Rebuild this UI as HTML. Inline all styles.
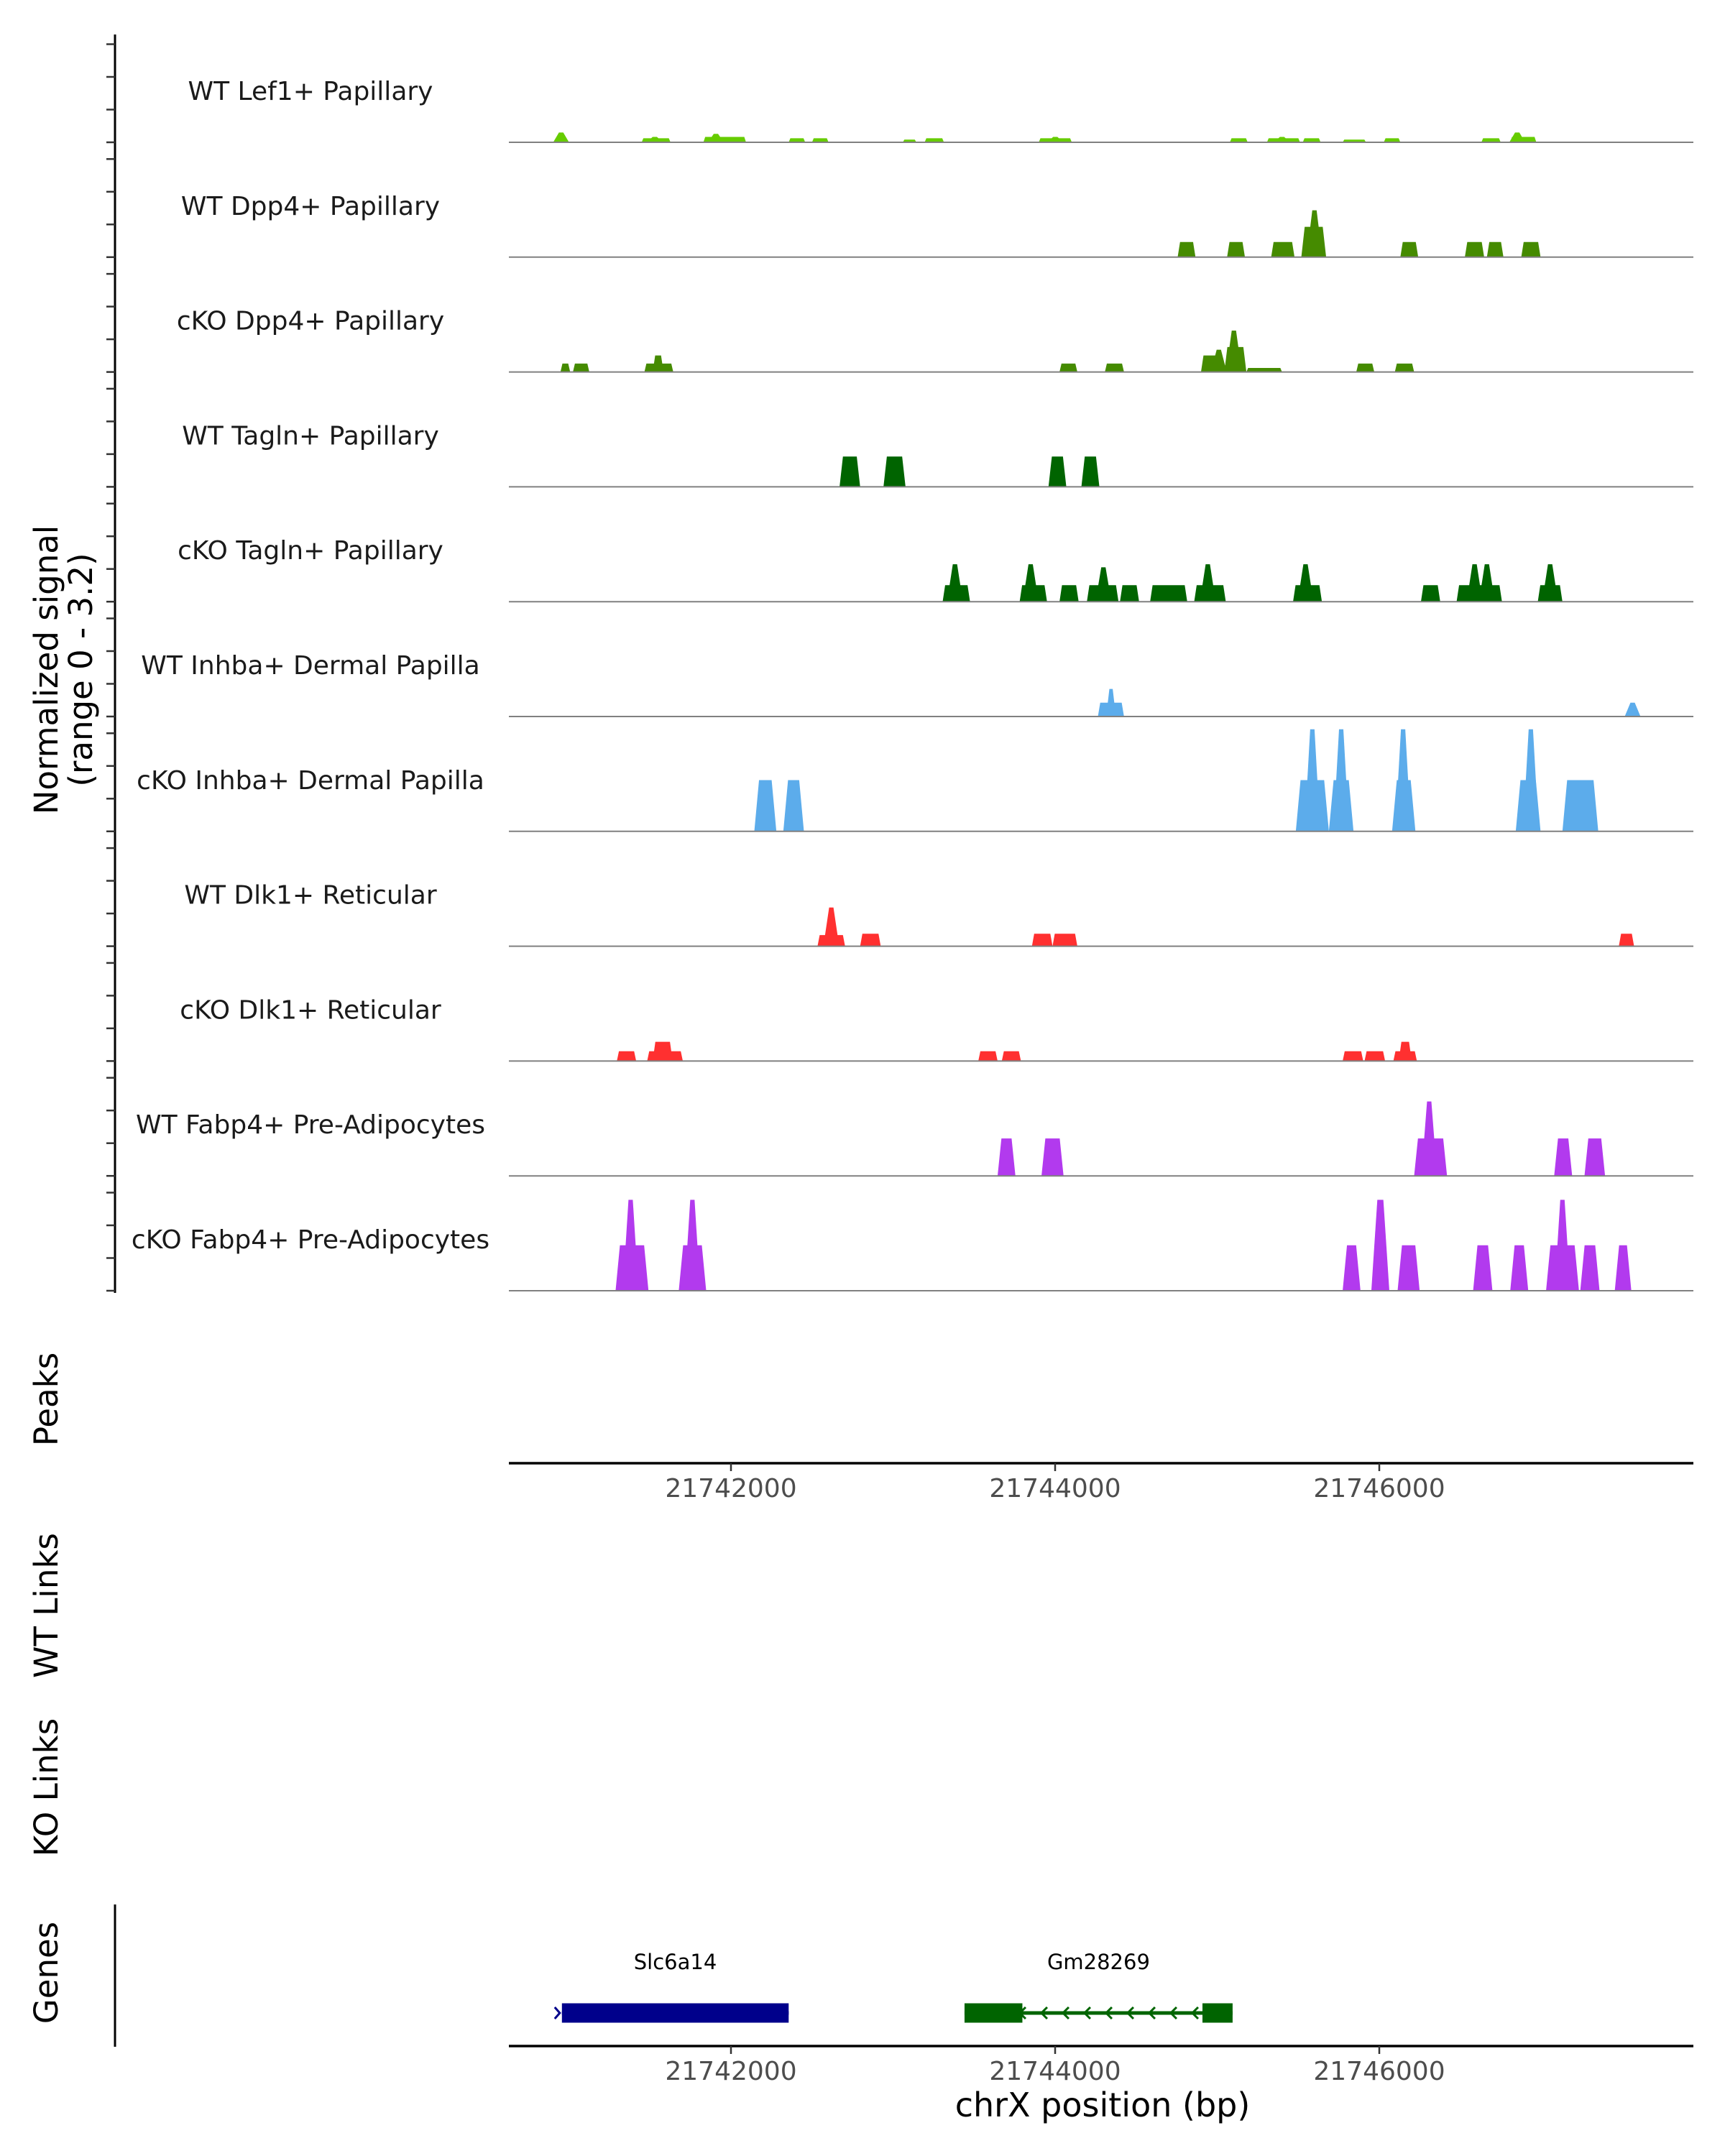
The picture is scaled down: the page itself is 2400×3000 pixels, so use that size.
<!DOCTYPE html>
<html><head><meta charset="utf-8"><style>
html,body{margin:0;padding:0;background:#fff;}
svg{display:block;font-family:"DejaVu Sans","Liberation Sans",sans-serif;}
</style></head><body>
<svg id="chart" width="2400" height="3000" viewBox="0 0 2400 3000" xmlns="http://www.w3.org/2000/svg">
<g id="axes"></g>
<g id="tracks"></g>
<g id="genes"></g>
</svg>
<script>
const trackNames = ["WT Lef1+ Papillary","WT Dpp4+ Papillary","cKO Dpp4+ Papillary","WT Tagln+ Papillary","cKO Tagln+ Papillary","WT Inhba+ Dermal Papilla","cKO Inhba+ Dermal Papilla","WT Dlk1+ Reticular","cKO Dlk1+ Reticular","WT Fabp4+ Pre-Adipocytes","cKO Fabp4+ Pre-Adipocytes"];
const trackColors = ["#66cc00","#458b00","#458b00","#006400","#006400","#5caceb","#5caceb","#ff3030","#ff3030","#b23aee","#b23aee"];
const xTicks = [21742000,21744000,21746000];
const xTickLabels = ["21742000","21744000","21746000"];
const yRangeMax = 3.2;

const peaksLef1WT = [[21740948,21740991,0.12],[21741449,21741627,0.12],[21741830,21742093,0.16],[21742356,21742458,0.12],[21742500,21742602,0.12],[21743060,21743144,0.08],[21743195,21743314,0.12],[21743899,21744103,0.12],[21745078,21745188,0.12],[21745307,21745511,0.12],[21745528,21745638,0.12],[21745774,21745918,0.08],[21746028,21746130,0.12],[21746630,21746749,0.12],[21746808,21746969,0.16]];
const spikesLef1WT = [[21740952,0.29],[21741530,0.16],[21741907,0.25],[21744001,0.16],[21745400,0.16],[21746851,0.29]];
const peaksDpp4WT = [[21744756,21744866,0.45],[21745061,21745171,0.45],[21745333,21745477,0.45],[21745519,21745672,0.9],[21746130,21746240,0.45],[21746528,21746647,0.45],[21746664,21746766,0.45],[21746876,21746995,0.45]];
const spikesDpp4WT = [[21745600,1.39]];
const peaksDpp4KO = [[21740948,21741008,0.25],[21741025,21741126,0.25],[21741466,21741644,0.25],[21741517,21741584,0.49],[21744027,21744137,0.25],[21744307,21744425,0.25],[21744900,21745027,0.49],[21745044,21745180,0.74],[21745180,21745400,0.12],[21745858,21745969,0.25],[21746096,21746215,0.25]];
const spikesDpp4KO = [[21745010,0.66],[21745103,1.23]];
const peaksTaglnWT = [[21742670,21742797,0.9],[21742941,21743077,0.9],[21743959,21744069,0.9],[21744162,21744273,0.9]];
const spikesTaglnWT = [];
const peaksTaglnKO = [[21743306,21743475,0.49],[21743781,21743950,0.49],[21744027,21744145,0.49],[21744196,21744391,0.49],[21744400,21744518,0.49],[21744586,21744815,0.49],[21744858,21745053,0.49],[21745468,21745646,0.49],[21746257,21746376,0.49],[21746477,21746757,0.49],[21746978,21747130,0.49]];
const spikesTaglnKO = [[21743382,1.11],[21743849,1.11],[21744298,1.02],[21744942,1.11],[21745545,1.11],[21746588,1.11],[21746664,1.11],[21747054,1.11]];
const peaksInhbaWT = [[21744264,21744425,0.41],[21744315,21744375,0.82]];
const spikesInhbaWT = [[21747563,0.41]];
const peaksInhbaKO = [[21742144,21742280,1.52],[21742323,21742450,1.52],[21745485,21745689,1.52],[21745689,21745841,1.52],[21746079,21746223,1.52],[21746842,21746995,1.52],[21747130,21747351,1.52]];
const spikesInhbaKO = [[21745587,3.03],[21745765,3.03],[21746147,3.03],[21746935,3.03]];
const peaksDlk1WT = [[21742534,21742704,0.33],[21742797,21742924,0.37],[21743857,21743984,0.37],[21743984,21744137,0.37],[21747478,21747572,0.37]];
const spikesDlk1WT = [[21742619,1.15]];
const peaksDlk1KO = [[21741296,21741415,0.29],[21741483,21741703,0.29],[21741517,21741640,0.57],[21743526,21743645,0.29],[21743671,21743789,0.29],[21745774,21745901,0.29],[21745909,21746036,0.29],[21746087,21746232,0.29],[21746120,21746200,0.57]];
const spikesDlk1KO = [];
const peaksFabp4WT = [[21743645,21743755,1.11],[21743916,21744052,1.11],[21746215,21746418,1.11],[21747079,21747190,1.11],[21747266,21747393,1.11]];
const spikesFabp4WT = [[21746308,2.21]];
const peaksFabp4KO = [[21741288,21741491,1.35],[21741678,21741847,1.35],[21745774,21745884,1.35],[21745951,21746062,2.7],[21746113,21746249,1.35],[21746579,21746698,1.35],[21746808,21746919,1.35],[21747029,21747232,1.35],[21747240,21747359,1.35],[21747453,21747555,1.35]];
const spikesFabp4KO = [[21741381,2.7],[21741762,2.7],[21747130,2.7]];

const trackPeaks = [peaksLef1WT,peaksDpp4WT,peaksDpp4KO,peaksTaglnWT,peaksTaglnKO,peaksInhbaWT,peaksInhbaKO,peaksDlk1WT,peaksDlk1KO,peaksFabp4WT,peaksFabp4KO];
const trackSpikes = [spikesLef1WT,spikesDpp4WT,spikesDpp4KO,spikesTaglnWT,spikesTaglnKO,spikesInhbaWT,spikesInhbaKO,spikesDlk1WT,spikesDlk1KO,spikesFabp4WT,spikesFabp4KO];

const geneNames = ["Slc6a14","Gm28269"];
const geneStarts = [21740957,21743441];
const geneEnds = [21742356,21745095];
const geneExons = [[[21740957,21742356]],[[21743441,21743798],[21744909,21745095]]];
const geneStrands = ["+","-"];
const geneColors = ["#00008b","#006400"];

const NS="http://www.w3.org/2000/svg";
const PX_L=708, PX_R=2356;
const xScale = bp => 1017 + (bp-21742000)*0.2255;
const firstBase=198, trackStep=159.8, trackH=150;
const yScale = (v, base) => base - v/yRangeMax*trackH;
function mk(tag, attrs, parent, text){const e=document.createElementNS(NS,tag);for(const k in attrs)e.setAttribute(k,attrs[k]);if(text!==undefined)e.textContent=text;parent.appendChild(e);return e;}
const axes=document.getElementById('axes'), tracks=document.getElementById('tracks'), genes=document.getElementById('genes');

// y axis
const yl = mk('line',{x1:160,y1:48,x2:160,y2:1799,stroke:'#000','stroke-width':3},axes);


for(let i=0;i<trackNames.length;i++){
  const base=firstBase+i*trackStep;
  for(let k=0;k<4;k++){
    const t=mk('line',{x1:148,x2:160,y1:base-k*45.5,y2:base-k*45.5,stroke:'#333','stroke-width':2.5},axes);
    
    
  }
}
const yt=mk('text',{x:0,y:0,'font-size':45,'text-anchor':'middle',fill:'#000',transform:'translate(92,932) rotate(-90)'},axes);


mk('tspan',{x:0,dy:-12},yt,'Normalized signal');
mk('tspan',{x:0,dy:48},yt,'(range 0 - 3.2)');

const sideTitles=[["Peaks",1947,'peaks-title'],["WT Links",2234,'wt-links-title'],["KO Links",2487,'ko-links-title'],["Genes",2745,'genes-title']];
sideTitles.forEach(s=>{
  const t=mk('text',{x:0,y:0,'font-size':45,'text-anchor':'middle',fill:'#000',transform:`translate(80,${s[1]}) rotate(-90)`},axes,s[0]);
  
  
});

// tracks
for(let i=0;i<trackNames.length;i++){
  const base=firstBase+i*trackStep;
  const g=mk('g',{},tracks);
  
  
  const lab=mk('text',{x:432,y:base-59,'font-size':36,'text-anchor':'middle',fill:'#1a1a1a'},g,trackNames[i]);
  
  
  trackPeaks[i].forEach(p=>{
    const x0=xScale(p[0]), x1=xScale(p[1]), yt=yScale(p[2],base);
    const s=Math.min(2+p[2]*3,(x1-x0)/3);
    const poly=mk('polygon',{points:`${x0},${base} ${x0+s},${yt} ${x1-s},${yt} ${x1},${base}`,fill:trackColors[i]},g);
    
    
  });
  trackSpikes[i].forEach(p=>{
    const xc=xScale(p[0]), yt=yScale(p[1],base);
    const poly=mk('polygon',{points:`${xc-11},${base} ${xc-3},${yt} ${xc+3},${yt} ${xc+11},${base}`,fill:trackColors[i]},g);
    
    
  });
  const bl=mk('line',{x1:PX_L,x2:PX_R,y1:base,y2:base,stroke:'#808080','stroke-width':2},g);
  
  
}

// x axes
function xAxis(y,name){
  const l=mk('line',{x1:PX_L,x2:PX_R,y1:y,y2:y,stroke:'#000','stroke-width':3.5},axes);
  
  
  xTicks.forEach((t,j)=>{
    const tk=mk('line',{x1:xScale(t),x2:xScale(t),y1:y,y2:y+11,stroke:'#333','stroke-width':2.5},axes);
    
    
    const tl=mk('text',{x:xScale(t),y:y+47,'font-size':36,'text-anchor':'middle',fill:'#4d4d4d'},axes,xTickLabels[j]);
    
    
  });
}
xAxis(2036,'peaks-x-axis');
xAxis(2847,'genes-x-axis');
const xt=mk('text',{x:1534,y:2945,'font-size':46,'text-anchor':'middle',fill:'#000'},axes,'chrX position (bp)');


const gl=mk('line',{x1:160,x2:160,y1:2650,y2:2848,stroke:'#000','stroke-width':3},axes);



// genes
const gy=2801;
for(let i=0;i<geneNames.length;i++){
  const g=mk('g',{},genes);
  
  
  const x0=xScale(geneStarts[i]), x1=xScale(geneEnds[i]);
  mk('line',{x1:x0,x2:x1,y1:gy,y2:gy,stroke:geneColors[i],'stroke-width':5},g);
  geneExons[i].forEach(e=>{
    const r=mk('rect',{x:xScale(e[0]),y:gy-13.5,width:xScale(e[1])-xScale(e[0]),height:27,fill:geneColors[i]},g);
    
    
  });
  const dir=geneStrands[i]==='+'?1:-1;
  for(let x=x0+20;x<x1-10;x+=30){
    mk('polyline',{points:`${x-5*dir},${gy-8} ${x+3*dir},${gy} ${x-5*dir},${gy+8}`,fill:'none',stroke:geneColors[i],'stroke-width':3},g);
  }
  if(dir===1) mk('polyline',{points:`${x0-10},${gy-8} ${x0-3},${gy} ${x0-10},${gy+8}`,fill:'none',stroke:geneColors[i],'stroke-width':3},g);
  const t=mk('text',{x:(x0+x1)/2,y:2740,'font-size':29,'text-anchor':'middle',fill:'#000'},g,geneNames[i]);
  
  
}
</script>
</body></html>
